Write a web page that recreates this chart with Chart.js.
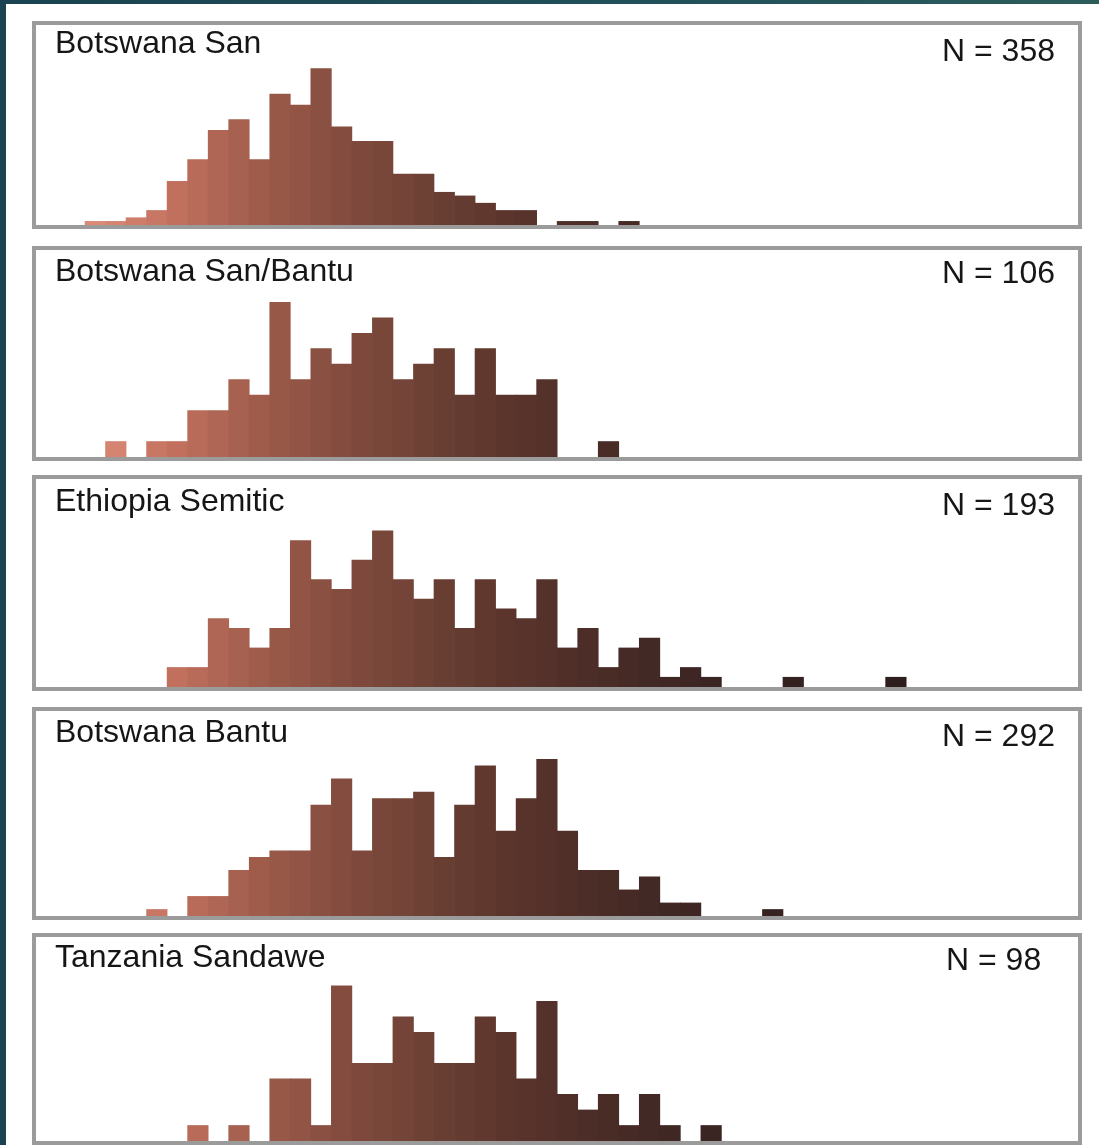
<!DOCTYPE html>
<html>
<head>
<meta charset="utf-8">
<script src="https://cdn.jsdelivr.net/npm/chart.js@4.4.1/dist/chart.umd.min.js"></script>
<style>
  html, body { margin: 0; padding: 0; }
  body {
    width: 1099px; height: 1145px; position: relative; overflow: hidden;
    background: linear-gradient(90deg, #1a4250 0%, #21505a 60%, #2c5d5a 100%);
  }
  #sheet { position: absolute; left: 6px; top: 4px; right: 0; bottom: 0; background: #fff; }
  .panel {
    position: absolute; left: 32px; width: 1042px;
    border: 4px solid #9b9b9b; background: #fff;
  }
  .panel canvas { display: block; }
</style>
</head>
<body>
<div id="sheet"></div>
<div id="panels"></div>
<script>
// Histogram bins: bin k covers [k, k+1) on the shared horizontal scale
const bins = Array.from({ length: 40 }, (_, k) => k);

const groups = ["Botswana San", "Botswana San/Bantu", "Ethiopia Semitic", "Botswana Bantu", "Tanzania Sandawe"];
const sampleSizes = [358, 106, 193, 292, 98];

// counts per bin, bins 0..39
const botswanaSan = [1, 1, 2, 4, 12, 18, 26, 29, 18, 36, 33, 43, 27, 23, 23, 14, 14, 9, 8, 6,
                     4, 4, 0, 1, 1, 0, 1, 0, 0, 0, 0, 0, 0, 0, 0, 0, 0, 0, 0, 0];
const botswanaSanBantu = [0, 1, 0, 1, 1, 3, 3, 5, 4, 10, 5, 7, 6, 8, 9, 5, 6, 7, 4, 7,
                          4, 4, 5, 0, 0, 1, 0, 0, 0, 0, 0, 0, 0, 0, 0, 0, 0, 0, 0, 0];
const ethiopiaSemitic = [0, 0, 0, 0, 2, 2, 7, 6, 4, 6, 15, 11, 10, 13, 16, 11, 9, 11, 6, 11,
                         8, 7, 11, 4, 6, 2, 4, 5, 1, 2, 1, 0, 0, 0, 1, 0, 0, 0, 0, 1];
const botswanaBantu = [0, 0, 0, 1, 0, 3, 3, 7, 9, 10, 10, 17, 21, 10, 18, 18, 19, 9, 17, 23,
                       13, 18, 24, 13, 7, 7, 4, 6, 2, 2, 0, 0, 0, 1, 0, 0, 0, 0, 0, 0];
const tanzaniaSandawe = [0, 0, 0, 0, 0, 1, 0, 1, 0, 4, 4, 1, 10, 5, 5, 8, 7, 5, 5, 8,
                         7, 4, 9, 3, 2, 3, 1, 3, 1, 0, 1, 0, 0, 0, 0, 0, 0, 0, 0, 0];
const seriesList = [botswanaSan, botswanaSanBantu, ethiopiaSemitic, botswanaBantu, tanzaniaSandawe];

// top of each panel's count axis
const countAxisMax = [55.0, 13.38, 21.3, 31.4, 13.14];

// panel frames: outer top, inner height, title / N baselines (from inner top), N label left
const frames = [
  { top: 21,  h: 200, titleY: 28, nY: 36, nX: 906 },
  { top: 246, h: 207, titleY: 31, nY: 33, nX: 906 },
  { top: 475, h: 208, titleY: 32, nY: 36, nX: 906 },
  { top: 707, h: 205, titleY: 31, nY: 35, nX: 906 },
  { top: 933, h: 204, titleY: 30, nY: 33, nX: 910 }
];
const innerWidth = 1042;

// light-to-dark pigment ramp along the bins
const rampStops = [
  [0,  [218, 138, 119]],
  [4,  [192, 112, 93]],
  [8,  [159, 92, 75]],
  [12, [131, 76, 62]],
  [16, [109, 65, 52]],
  [20, [91, 53, 44]],
  [24, [77, 45, 40]],
  [28, [63, 39, 36]],
  [32, [55, 35, 33]],
  [39, [45, 30, 29]]
];
function binColor(k) {
  for (let i = 0; i < rampStops.length - 1; i++) {
    const [a, ca] = rampStops[i], [b, cb] = rampStops[i + 1];
    if (k >= a && k <= b) {
      const t = (k - a) / (b - a);
      const c = ca.map((v, j) => Math.round(v + (cb[j] - v) * t));
      return `rgb(${c[0]},${c[1]},${c[2]})`;
    }
  }
  return 'rgb(45,30,29)';
}

const FONT = '32px "Liberation Sans", Arial, Helvetica, sans-serif';

const panelText = {
  id: 'panelText',
  afterDraw(chart, args, opts) {
    const ctx = chart.ctx;
    ctx.save();
    ctx.font = FONT;
    ctx.fillStyle = '#161616';
    ctx.textBaseline = 'alphabetic';
    ctx.textAlign = 'left';
    ctx.fillText(opts.title, 19, opts.titleY);
    ctx.fillText(opts.nText, opts.nX, opts.nY);
    ctx.restore();
  }
};

const host = document.getElementById('panels');
seriesList.forEach((counts, p) => {
  const f = frames[p];
  const div = document.createElement('div');
  div.className = 'panel';
  div.style.top = f.top + 'px';
  div.style.height = f.h + 'px';
  const canvas = document.createElement('canvas');
  canvas.width = innerWidth;
  canvas.height = f.h;
  canvas.style.width = innerWidth + 'px';
  canvas.style.height = f.h + 'px';
  div.appendChild(canvas);
  host.appendChild(div);

  new Chart(canvas.getContext('2d'), {
    type: 'bar',
    data: {
      datasets: [{
        // empty bins are left undrawn
        data: bins.map((b, i) => ({ x: b + 0.5, y: counts[i] > 0 ? counts[i] : null })),
        backgroundColor: bins.map(binColor),
        borderWidth: 0,
        barPercentage: 1,
        categoryPercentage: 1
      }]
    },
    options: {
      responsive: false,
      animation: false,
      devicePixelRatio: 1,
      layout: { padding: 0 },
      plugins: {
        legend: { display: false },
        tooltip: { enabled: false },
        panelText: {
          title: groups[p],
          nText: 'N = ' + sampleSizes[p],
          titleY: f.titleY, nY: f.nY, nX: f.nX
        }
      },
      scales: {
        x: {
          type: 'linear', min: -2.387, max: 48.37, offset: false, display: false,
          // ticks on the bin edges, so each bar fills its whole bin
          afterBuildTicks: (scale) => {
            scale.ticks = bins.concat([bins.length]).map(v => ({ value: v }));
          }
        },
        y: { min: 0, max: countAxisMax[p], display: false }
      }
    },
    plugins: [panelText]
  });
});
</script>
</body>
</html>
